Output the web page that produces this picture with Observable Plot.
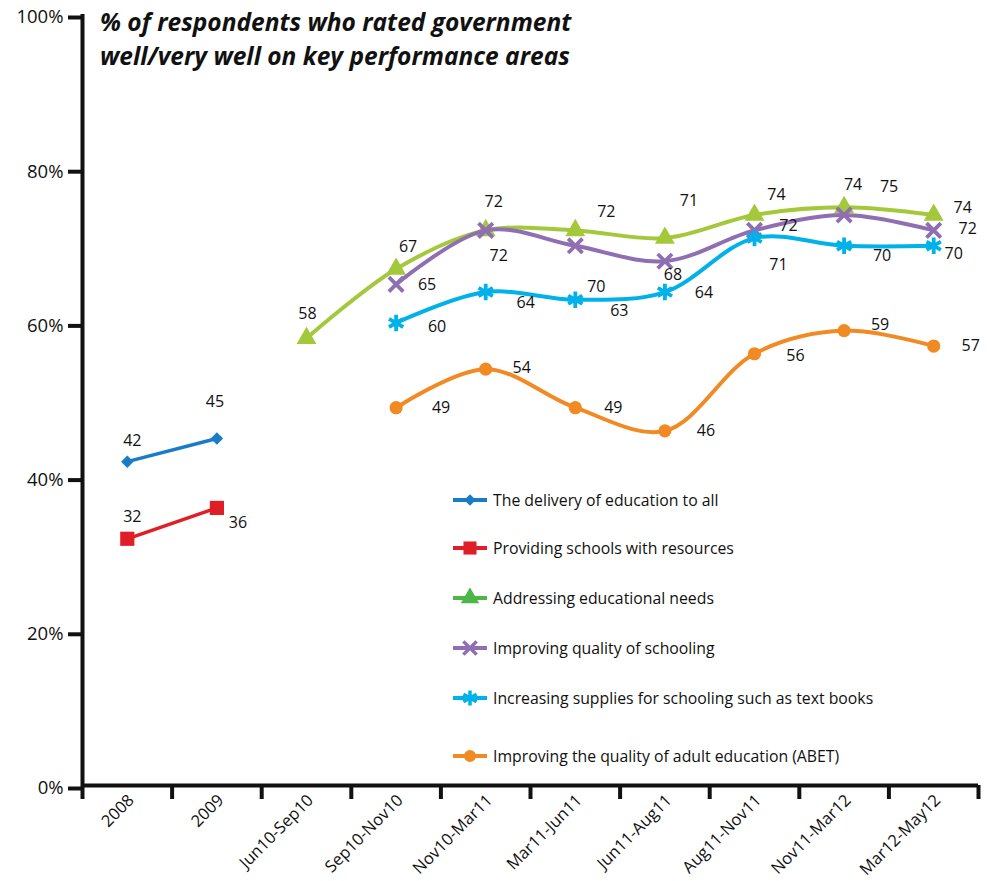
<!DOCTYPE html>
<html><head><meta charset="utf-8">
<script src="https://cdn.jsdelivr.net/npm/d3@7"></script>
<script src="https://cdn.jsdelivr.net/npm/@observablehq/plot@0.6"></script>
<style>
body{margin:0;background:#fff;font-family:"Open Sans",sans-serif;}
#wrap{position:relative;width:987px;height:881px;}
#title{position:absolute;left:100px;top:5px;font-weight:700;font-style:italic;font-size:24.5px;line-height:34px;color:#111;}
#legend{position:absolute;left:452px;top:488px;font-size:15.8px;color:#111;}
.row{position:absolute;left:0;display:flex;align-items:center;white-space:nowrap;height:24px;}
.row svg{margin-right:3px;}
</style></head>
<body><div id="wrap"><div id="chart"></div>
<div id="title">% of respondents who rated government<br>well/very well on key performance areas</div>
<div id="legend"></div></div>
<script>
const categories = ["2008","2009","Jun10-Sep10","Sep10-Nov10","Nov10-Mar11","Mar11-Jun11","Jun11-Aug11","Aug11-Nov11","Nov11-Mar12","Mar12-May12"];
const seriesNames = ["The delivery of education to all","Providing schools with resources","Addressing educational needs","Improving quality of schooling","Increasing supplies for schooling such as text books","Improving the quality of adult education (ABET)"];
const delivery  = [42, 45, null, null, null, null, null, null, null, null];
const resources = [32, 36, null, null, null, null, null, null, null, null];
const needs     = [null, null, 58, 67, 72, 72, 71, 74, 75, 74];
const quality   = [null, null, null, 65, 72, 70, 68, 72, 74, 72];
const supplies  = [null, null, null, 60, 64, 63, 64, 71, 70, 70];
const adult     = [null, null, null, 49, 54, 49, 46, 56, 59, 57];
const yTicks = [0, 20, 40, 60, 80, 100];

// label nudges (layout only), one per plotted point, in order
const labelNudge = [
  [[5,-21],[-2,-37]],
  [[5,-22],[21,15]],
  [[1,-24],[12,-22],[8,-29],[31,-19],[24,-37],[22,-20],[45,-20],[29,-7]],
  [[31,1],[13,25],[21,41],[8,14],[34,-5],[9,-30],[34,-2]],
  [[41,4],[40,11],[44,11],[39,1],[24,27],[38,10],[20,8]],
  [[45,0],[36,-1],[38,0],[41,0],[41,2],[36,-6],[37,0]]
];

const styles = [
  {color:"#1a7bc7", legend:"#1a7bc7", symbol:"diamond2", r:5.6, filled:true, lw:3.5},
  {color:"#e01e26", legend:"#e01e26", symbol:"square", r:8, filled:true, lw:3.5},
  {color:"#a3c93b", legend:"#4cb748", symbol:"triangle", r:7.4, filled:true, lw:4},
  {color:"#8f6fb1", legend:"#8f6fb1", symbol:"times", r:6.6, filled:false, lw:4},
  {color:"#00b1ea", legend:"#00b1ea", symbol:"asterisk", r:7.8, filled:false, lw:4},
  {color:"#f28a24", legend:"#f28a24", symbol:"circle", r:6.6, filled:true, lw:4}
];
const allSeries = [delivery, resources, needs, quality, supplies, adult];

const marks = [];
allSeries.forEach((vals, k) => {
  const st = styles[k];
  const pts = [];
  vals.forEach((v, i) => { if (v != null) pts.push({i, v}); });
  pts.forEach((p, j) => { p.dx = labelNudge[k][j][0]; p.dy = labelNudge[k][j][1]; });
  marks.push(Plot.line(pts, {x:"i", y:"v", stroke:st.color, strokeWidth:st.lw, curve:"catmull-rom"}));
  if (st.filled) marks.push(Plot.dot(pts, {x:"i", y:"v", symbol:st.symbol, r:st.r, fill:st.color, stroke:null}));
  else marks.push(Plot.dot(pts, {x:"i", y:"v", symbol:st.symbol, r:st.r, stroke:st.color, strokeWidth:3.8, fill:"none"}));
  pts.forEach(p => {
    marks.push(Plot.text([p], {x:"i", y:"v", text:d=>String(d.v), dx:p.dx, dy:p.dy, fontSize:16, fill:"#111"}));
  });
});

const boundaries = d3.range(11).map(i => i - 0.5);

const chart = Plot.plot({
  width:987, height:881,
  marginLeft:82, marginRight:9, marginTop:14, marginBottom:96,
  style:{fontFamily:"Open Sans", background:"white", color:"#111", overflow:"visible"},
  x:{domain:[-0.5, 9.5]},
  y:{domain:[0, 100]},
  marks:[
    Plot.axisY(yTicks, {tickSize:14, tickPadding:5, tickFormat:d => d + "%", fontSize:18.5, strokeWidth:4, label:null, dy:3}),
    Plot.axisX(boundaries, {tickSize:14, tickFormat:() => "", strokeWidth:4, label:null}),
    Plot.axisX(d3.range(10), {tickSize:0, tickPadding:12, tickRotate:-45, tickFormat:i => categories[i], fontSize:16.5, dx:4, label:null}),
    Plot.ruleX([-0.5], {strokeWidth:4}),
    Plot.ruleY([0], {strokeWidth:4}),
    ...marks
  ]
});
document.getElementById("chart").append(chart);

// legend
const legend = d3.select("#legend");
const rowTops = [0, 48, 98, 148, 198, 256];
const symMap = {diamond2:d3.symbolDiamond2, square:d3.symbolSquare, triangle:d3.symbolTriangle, times:d3.symbolTimes, asterisk:d3.symbolAsterisk, circle:d3.symbolCircle};
seriesNames.forEach((name, k) => {
  const st = styles[k];
  const row = legend.append("div").attr("class","row").style("top", rowTops[k] + "px");
  const svg = row.append("svg").attr("width",38).attr("height",20);
  svg.append("line").attr("x1",1).attr("x2",35).attr("y1",10).attr("y2",10).attr("stroke",st.legend).attr("stroke-width",4);
  const size = Math.PI * st.r * st.r * 0.85;
  const path = svg.append("path").attr("transform","translate(18,10)").attr("d", d3.symbol(symMap[st.symbol], size)());
  if (st.filled) path.attr("fill", st.legend);
  else path.attr("fill","none").attr("stroke", st.legend).attr("stroke-width",3.5);
  row.append("span").text(name);
});
</script>
</body></html>
